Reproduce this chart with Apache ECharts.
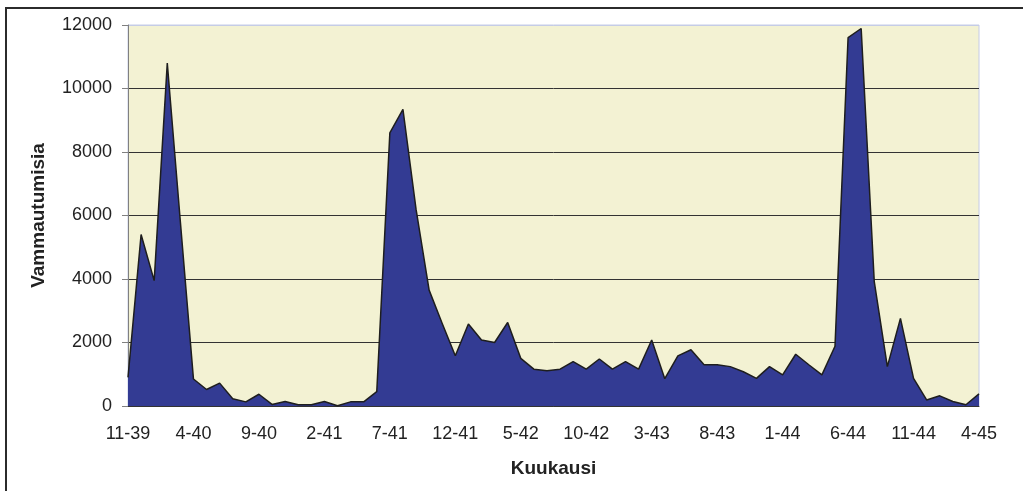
<!DOCTYPE html>
<html>
<head>
<meta charset="UTF-8">
<title>Vammautumisia</title>
<script src="https://cdn.jsdelivr.net/npm/echarts@6/dist/echarts.min.js"></script>
<style>
  html, body { margin: 0; padding: 0; background: #fff; }
  #chart { width: 1023px; height: 491px; }
</style>
</head>
<body>
<div id="chart"></div>
<script>
// kuukaudet 11-39 ... 4-45
var months = [];
var startYear = 39, startMonth = 11;
for (var k = 0; k < 66; k++) {
  var m = (startMonth - 1 + k) % 12 + 1;
  var y = startYear + Math.floor((startMonth - 1 + k) / 12);
  months.push(m + '-' + y);
}

// vammautuneet kuukausittain (luettu kuvasta)
var injured = [
  900, 5400, 3950, 10800, 5800, 850, 520, 720, 230, 130,
  370, 50, 140, 40, 40, 140, 10, 130, 130, 450,
  8600, 9340, 6200, 3650, 2600, 1580, 2580, 2080, 2000, 2630,
  1500, 1160, 1110, 1160, 1400, 1160, 1480, 1160, 1400, 1160,
  2080, 860, 1580, 1770, 1300, 1300, 1240, 1080, 870, 1240,
  980, 1630, 1300, 980, 1880, 11600, 11890, 3920, 1240, 2760,
  870, 190, 320, 140, 40, 380
];

var yTicks = [0, 2000, 4000, 6000, 8000, 10000, 12000];

var chart = echarts.init(document.getElementById('chart'));
var font = '"Liberation Sans", Arial, sans-serif';

chart.setOption({
  animation: false,
  backgroundColor: '#fff',
  graphic: [{
    type: 'rect',
    shape: { x: 6, y: 8, width: 1100, height: 600 },
    style: { fill: 'none', stroke: '#2b2b2b', lineWidth: 2 }
  }],
  grid: {
    left: 128, right: 44, top: 25, bottom: 85,
    show: true,
    backgroundColor: '#f3f2d3',
    borderColor: '#c5cce6',
    borderWidth: 1
  },
  xAxis: {
    type: 'category',
    data: months,
    boundaryGap: false,
    name: 'Kuukausi',
    nameLocation: 'middle',
    nameGap: 53,
    nameTextStyle: { fontFamily: font, fontSize: 19, fontWeight: 'bold', color: '#222' },
    axisLine: { lineStyle: { color: '#333', width: 1 } },
    axisTick: { show: false },
    axisLabel: {
      interval: 4,
      margin: 19,
      fontFamily: font,
      fontSize: 18,
      color: '#222'
    }
  },
  yAxis: {
    type: 'value',
    min: 0,
    max: yTicks[yTicks.length - 1],
    interval: 2000,
    name: 'Vammautumisia',
    nameLocation: 'middle',
    nameGap: 80,
    nameTextStyle: { fontFamily: font, fontSize: 19, fontWeight: 'bold', color: '#222' },
    axisLine: { show: true, lineStyle: { color: '#808080', width: 1 } },
    axisTick: { show: true, length: 6, lineStyle: { color: '#808080' } },
    axisLabel: {
      margin: 16,
      fontFamily: font,
      fontSize: 18,
      color: '#222',
      formatter: function (v) { return String(v); }
    },
    splitLine: {
      show: true,
      lineStyle: {
        color: ['#333', '#333', '#333', '#333', '#333', '#333', '#c5cce6'],
        width: 1
      }
    }
  },
  series: [{
    type: 'line',
    data: injured,
    symbol: 'none',
    lineStyle: { color: '#1e1e1e', width: 1.5 },
    areaStyle: { color: '#333b93', opacity: 1 }
  }]
});
</script>
</body>
</html>
